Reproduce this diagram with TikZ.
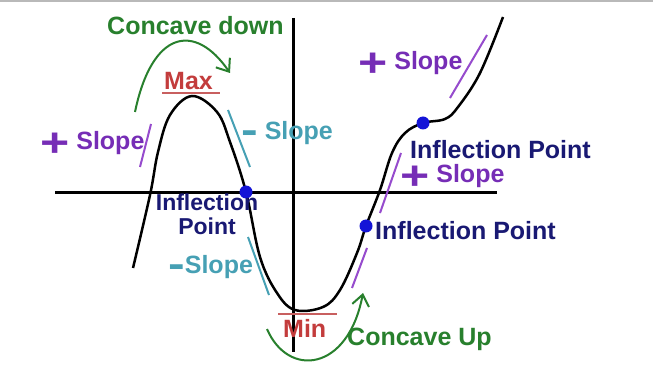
\documentclass[tikz,border=0pt]{standalone}
\usepackage{graphicx}
\usepackage{fontspec}
\setmainfont{Liberation Sans}
\usetikzlibrary{arrows.meta}
\definecolor{cgreen}{RGB}{40,128,45}
\definecolor{cred}{RGB}{195,60,60}
\definecolor{cbar}{RGB}{200,95,95}
\definecolor{cpurple}{RGB}{118,45,182}
\definecolor{clpurple}{RGB}{150,75,205}
\definecolor{cteal}{RGB}{70,160,180}
\definecolor{cnavy}{RGB}{25,25,115}
\definecolor{cblue}{RGB}{20,20,215}
\newcommand{\plusmark}{\raisebox{-7pt}{\scalebox{2}[1.6]{+}}}
\newcommand{\minusmark}{\raisebox{-4pt}{\scalebox{2}[1.6]{-}}}
\begin{document}
\begin{tikzpicture}[x=1pt, y=-1pt,
	txt/.style={font=\fontsize{25}{25}\selectfont\bfseries, inner sep=0pt, anchor=base west},
	tangent/.style={line width=2pt},
	bendarrow/.style={cgreen, line width=2pt, -{Straight Barb[length=11pt,width=17pt,line width=2pt]}},
	dot/.style={circle, fill=cblue, inner sep=0pt, minimum size=13pt}]
	\useasboundingbox (0,0) rectangle (653,371);
	\fill[white] (0,0) rectangle (653,371);
	\fill[gray!55] (0,0) rectangle (653,2.5);
	\draw[line width=3pt] (55,193) -- (497,193);
	\draw[line width=3pt] (293,18) -- (293,352);
	\draw[line width=2.5pt] plot[smooth, tension=0.6] coordinates {
		(133,268) (150,195) (158,152) (170,115) (192,96) (217,112) (230,142)
		(246,192) (260,257) (277,293) (295,310) (323,307) (340,290) (357,253)
		(366,226) (380,190) (392,153) (405,133) (423,123) (445,119) (458,107)
		(480,73) (503,17)};
	\node[dot] (ipa) at (246,192) {};
	\node[dot] (ipb) at (366,226) {};
	\node[dot] (ipc) at (423,123) {};
	\draw[tangent, clpurple] (151,124) -- (140,167);
	\draw[tangent, clpurple] (487,35) -- (450,98);
	\draw[tangent, clpurple] (401,153) -- (380,213);
	\draw[tangent, clpurple] (367,248) -- (352,288);
	\draw[tangent, cteal] (228,110) -- (250,167);
	\draw[tangent, cteal] (248,237) -- (269,295);
	\draw[bendarrow] (135,112) .. controls (152,30) and (195,22) .. (230,73);
	\draw[bendarrow] (267,329) .. controls (288,378) and (348,372) .. (363,293);
	\draw[cbar, line width=2pt] (162,93) -- (220,93);
	\draw[cbar, line width=2pt] (278,314) -- (337,314);
	\node[txt, cgreen] (cdown) at (107,35) {Concave down};
	\node[txt, cred] (maxlbl) at (164,90) {Max};
	\node[txt, cpurple] (slopea) at (40,150) {\plusmark{} Slope};
	\node[txt, cteal] (slopeb) at (241,140) {\minusmark{} Slope};
	\node[txt, cpurple] (slopec) at (358,70) {\plusmark{} Slope};
	\node[txt, cnavy] (inflc) at (410,159) {Inflection Point};
	\node[txt, cpurple] (sloped) at (400,183) {\plusmark{} Slope};
	\node[txt, cnavy, anchor=north, align=center, font=\fontsize{23}{24}\selectfont\bfseries] (infla) at (207,194) {Inflection\\Point};
	\node[txt, cteal] (slopee) at (168,273) {\minusmark{}Slope};
	\node[txt, cnavy] (inflb) at (375,240) {Inflection Point};
	\node[txt, cred] (minlbl) at (283,337) {Min};
	\node[txt, cgreen] (cup) at (347,345) {Concave Up};
\end{tikzpicture}
\end{document}
